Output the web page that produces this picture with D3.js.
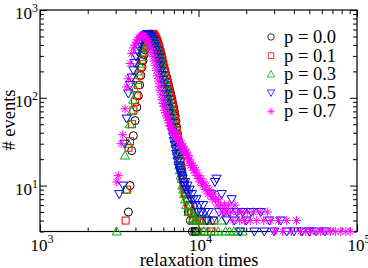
<!DOCTYPE html>
<meta charset="utf-8">
<script src="https://d3js.org/d3.v7.min.js"></script>
<style>
  body { margin: 0; background: #fff; }
  text { font-family: "Liberation Serif", "Times New Roman", serif; fill: #000; }
</style>
<div id="my_dataviz"></div>
<script>

// series: [relaxation time, # events]
var p00 = [[3610,5],[3700,10],[3790,25],[3880,37],[3980,55],[4080,78],[4170,105],[4250,140],[4330,180],[4400,222],[4470,265],[4540,310],[4610,352],[4680,392],[4750,428],[4820,460],[4890,488],[4960,508],[5030,522],[5100,530],[5170,528],[5240,518],[5310,502],[5380,482],[5450,458],[5520,430],[5590,400],[5660,370],[5730,340],[5800,312],[5870,284],[5940,258],[6010,236],[6090,214],[6170,195],[6250,178],[6330,164],[6410,150],[6490,137],[6570,125],[6650,114],[6730,104],[6810,95],[6890,86],[6970,78],[7050,70],[7130,62],[7210,54],[7290,46],[7370,39],[7450,33],[7530,28],[7610,24],[7690,20],[7770,17],[7860,15],[7950,13],[8050,11],[8150,10],[8260,8],[8380,9],[8500,7],[8620,5],[8750,6],[8880,4],[9000,5],[9150,3],[9300,4],[9450,3],[9650,3],[9850,3]];

var p01 = [[3470,4],[3540,9],[3620,27],[3700,32],[3800,50],[3880,72],[3980,90],[4080,107],[4160,140],[4240,180],[4320,225],[4400,270],[4480,320],[4560,365],[4640,405],[4720,440],[4800,470],[4880,495],[4960,515],[5040,528],[5120,535],[5200,530],[5280,515],[5360,492],[5440,462],[5520,430],[5600,398],[5680,365],[5760,332],[5840,300],[5920,270],[6000,242],[6080,218],[6160,197],[6240,178],[6320,162],[6400,147],[6480,133],[6560,120],[6640,108],[6720,98],[6800,89],[6880,80],[6960,72],[7040,64],[7120,57],[7200,50],[7280,43],[7360,37],[7440,31],[7520,26],[7600,22],[7680,19],[7760,16],[7850,14],[7950,12],[8050,10],[8150,9],[8250,8],[8350,8],[8480,7],[8600,6],[8750,5],[8900,6],[9050,5],[9200,4],[9400,5],[9600,4],[9800,4],[10100,4],[10500,4],[10900,3],[11400,4],[12000,3],[12500,4]];

var p03 = [[3050,3],[3480,9],[3440,22],[3600,30],[3700,50],[3790,70],[3880,95],[3960,125],[4040,160],[4120,200],[4200,245],[4280,290],[4360,335],[4440,380],[4520,420],[4600,455],[4680,485],[4760,505],[4840,520],[4920,530],[5000,528],[5080,518],[5160,500],[5240,478],[5320,450],[5400,420],[5480,388],[5560,355],[5640,322],[5720,290],[5800,260],[5880,232],[5960,206],[6040,184],[6120,164],[6200,146],[6280,130],[6360,116],[6440,104],[6520,93],[6600,83],[6680,74],[6760,66],[6840,58],[6920,51],[7000,45],[7080,39],[7160,34],[7240,30],[7320,26],[7400,22],[7480,19],[7560,17],[7640,15],[7720,13],[7820,12],[7920,10],[8020,9],[8120,8],[8250,7],[8380,6],[8520,7],[8650,5],[8800,6],[8950,5],[9100,4],[9300,5],[9500,4],[9700,4],[9950,3],[10200,4],[10500,5],[10800,3],[11100,4],[11500,3],[12000,4],[12600,3],[13300,3],[14000,4],[14800,3],[15700,3],[16700,3],[17800,3],[19000,3]];

var p05 = [[3160,8],[3350,10],[3420,30],[3520,58],[3610,112],[3700,140],[3790,170],[3880,206],[3960,250],[4040,295],[4120,340],[4200,380],[4280,415],[4360,448],[4440,475],[4520,498],[4600,515],[4680,525],[4760,530],[4840,525],[4920,512],[5000,495],[5080,472],[5160,445],[5240,415],[5320,385],[5400,352],[5480,320],[5560,290],[5640,260],[5720,232],[5800,205],[5880,182],[5960,160],[6040,142],[6120,125],[6200,110],[6280,97],[6360,86],[6440,76],[6520,67],[6600,59],[6680,52],[6760,46],[6840,41],[6920,36],[7000,32],[7080,29],[7160,26],[7240,23],[7320,21],[7400,19],[7480,17],[7560,16],[7640,15],[7720,14],[7820,13],[7920,12],[8020,11],[8120,10],[8250,11],[8380,9],[8520,10],[8650,8],[8800,9],[8950,7],[9100,8],[9300,7],[9500,6],[9700,7],[9900,5],[10100,6],[10400,5],[10700,6],[11000,5],[11300,4],[11600,5],[12000,8],[12300,4],[12700,11],[13000,12],[13500,5],[14000,8],[14500,5],[15000,4],[15600,5],[16200,7],[16800,4],[17500,5],[18300,3],[19000,5],[20000,4],[21500,5],[22500,3],[24700,5],[26000,3],[28000,4],[30000,3],[33000,4],[36000,3],[40000,3],[45000,3],[50000,3],[55000,3],[62800,3]];

var p07 = [[3050,11],[3120,13],[3250,30],[3330,38],[3440,75],[3520,133],[3610,165],[3700,246],[3790,320],[3880,370],[3970,398],[4050,430],[4130,458],[4210,482],[4290,498],[4370,508],[4450,512],[4530,506],[4610,492],[4690,472],[4770,448],[4850,420],[4930,390],[5010,358],[5090,326],[5170,294],[5250,262],[5330,232],[5410,204],[5490,178],[5570,155],[5650,135],[5720,122],[5800,108],[5880,95],[5960,86],[6040,80],[6120,72],[6200,68],[6280,62],[6360,59],[6440,55],[6520,52],[6600,48],[6680,47],[6760,44],[6840,42],[6920,40],[7000,41],[7080,37],[7160,38],[7240,35],[7320,36],[7400,33],[7480,34],[7560,31],[7640,32],[7720,29],[7800,30],[7900,27],[8000,28],[8100,25],[8200,26],[8300,23],[8400,24],[8500,21],[8600,22],[8700,19],[8800,20],[8900,17],[9000,18],[9120,16],[9250,17],[9380,15],[9500,14],[9650,15],[9800,13],[9950,12],[10100,13],[10250,11],[10400,12],[10600,10],[10800,11],[11000,9],[11200,10],[11450,8],[11700,9],[11950,8],[12200,7],[12500,8],[12800,7],[13100,6],[13400,7],[13800,6],[14200,5],[14600,6],[15000,5],[15500,6],[16000,5],[16500,4],[17000,6],[17600,5],[18200,4],[18800,5],[19500,4],[20300,5],[21200,4],[22200,5],[23300,4],[24500,5],[25800,4],[27200,5],[28600,4],[30200,3],[32000,4],[34000,3],[36000,4],[38500,3],[41500,4],[44000,3],[47500,3],[51000,3],[55000,3],[59000,3],[63000,3],[68000,3],[73000,3],[79000,3],[85000,3],[90400,3]];

var labels = ["p = 0.0", "p = 0.1", "p = 0.3", "p = 0.5", "p = 0.7"];
var colors = ["#000000", "#ff0000", "#00b000", "#0000ff", "#ff00ff"];
var shapes = ["circle", "square", "triUp", "triDown", "star"];
var seriesData = [p00, p01, p03, p05, p07];

var xMajor = [1e3, 1e4, 1e5];
var yMajor = [1e1, 1e2, 1e3];

var width = 368, height = 268;
var margin = {top: 10, right: 11, bottom: 36.5, left: 40};

var svg = d3.select("#my_dataviz")
  .append("svg")
    .attr("width", width)
    .attr("height", height);

var x = d3.scaleLog()
  .domain([1e3, 1e5])
  .range([margin.left, width - margin.right]);
var y = d3.scaleLog()
  .domain([3, 1e3])
  .range([height - margin.bottom, margin.top]);

// minor ticks 2..9 per decade
function minors(dom) {
  var out = [];
  var lo = Math.floor(Math.log10(dom[0])), hi = Math.ceil(Math.log10(dom[1]));
  for (var e = lo; e < hi; e++)
    for (var k = 2; k <= 9; k++) {
      var v = k * Math.pow(10, e);
      if (v >= dom[0] && v <= dom[1]) out.push(v);
    }
  return out;
}

function tickAxis(axisFn, scale, vals, len, tr) {
  svg.append("g")
    .attr("transform", tr)
    .call(axisFn(scale).tickValues(vals).tickSize(-len).tickFormat(""))
    .call(function(g) {
      g.select(".domain").remove();
      g.selectAll("line").attr("stroke", "#000").attr("stroke-width", 1);
    });
}

var bx = height - margin.bottom, ty = margin.top;
var lx = margin.left, rx = width - margin.right;

tickAxis(d3.axisBottom, x, xMajor, 7, "translate(0," + bx + ")");
tickAxis(d3.axisBottom, x, minors(x.domain()), 4, "translate(0," + bx + ")");
tickAxis(d3.axisTop, x, xMajor, 7, "translate(0," + ty + ")");
tickAxis(d3.axisTop, x, minors(x.domain()), 4, "translate(0," + ty + ")");
tickAxis(d3.axisLeft, y, yMajor, 7, "translate(" + lx + ",0)");
tickAxis(d3.axisLeft, y, minors(y.domain()), 4, "translate(" + lx + ",0)");
tickAxis(d3.axisRight, y, yMajor, 7, "translate(" + rx + ",0)");
tickAxis(d3.axisRight, y, minors(y.domain()), 4, "translate(" + rx + ",0)");

// frame
svg.append("rect")
  .attr("x", lx).attr("y", ty)
  .attr("width", rx - lx).attr("height", bx - ty)
  .attr("fill", "none").attr("stroke", "#000").attr("stroke-width", 1.2);

// tick labels 10^n
xMajor.forEach(function(v) {
  var t = svg.append("text")
    .attr("x", x(v) + 2).attr("y", bx + 19.5)
    .attr("text-anchor", "middle")
    .style("font-size", "17px");
  t.append("tspan").text("10");
  t.append("tspan").attr("dy", -8).style("font-size", "12px").text(Math.round(Math.log10(v)));
});
yMajor.forEach(function(v) {
  var t = svg.append("text")
    .attr("x", lx - 2).attr("y", y(v) + 9)
    .attr("text-anchor", "end")
    .style("font-size", "17px");
  t.append("tspan").text("10");
  t.append("tspan").attr("dy", -7).style("font-size", "12px").text(Math.round(Math.log10(v)));
});

// axis titles
svg.append("text")
  .attr("x", (lx + rx) / 2 + 0.5).attr("y", 265.5)
  .attr("text-anchor", "middle")
  .style("font-size", "18.5px")
  .text("relaxation times");
svg.append("text")
  .attr("transform", "translate(15," + 120 + ") rotate(-90)")
  .attr("text-anchor", "middle")
  .style("font-size", "18.5px")
  .text("# events");

// marker drawing
function marker(g, shape, color) {
  if (shape === "circle")
    g.append("circle").attr("r", 4);
  else if (shape === "square")
    g.append("rect").attr("x", -3.5).attr("y", -3.5).attr("width", 7).attr("height", 7);
  else if (shape === "triUp")
    g.append("path").attr("d", "M0,-4.5L4.6,3.5L-4.6,3.5Z");
  else if (shape === "triDown")
    g.append("path").attr("d", "M0,4.5L4.6,-3.5L-4.6,-3.5Z");
  else
    g.append("path").attr("d", "M-4.5,0H4.5M0,-4.5V4.5M-3.2,-3.2L3.2,3.2M-3.2,3.2L3.2,-3.2");
  g.selectAll("*").attr("fill", "none").attr("stroke", color).attr("stroke-width", 1);
}

seriesData.forEach(function(data, i) {
  var g = svg.append("g");
  g.selectAll("g")
    .data(data)
    .enter().append("g")
      .attr("transform", function(d) { return "translate(" + x(d[0]) + "," + y(d[1]) + ")"; })
      .each(function() { marker(d3.select(this), shapes[i], colors[i]); });
});

// legend
labels.forEach(function(lab, i) {
  var yy = 37 + i * 18.6;
  var g = svg.append("g").attr("transform", "translate(271," + yy + ")");
  marker(g, shapes[i], colors[i]);
  g.selectAll("*").attr("transform", "scale(0.8)");
  svg.append("text")
    .attr("x", 284).attr("y", yy + 6)
    .style("font-size", "18.5px")
    .text(lab);
});

</script>
